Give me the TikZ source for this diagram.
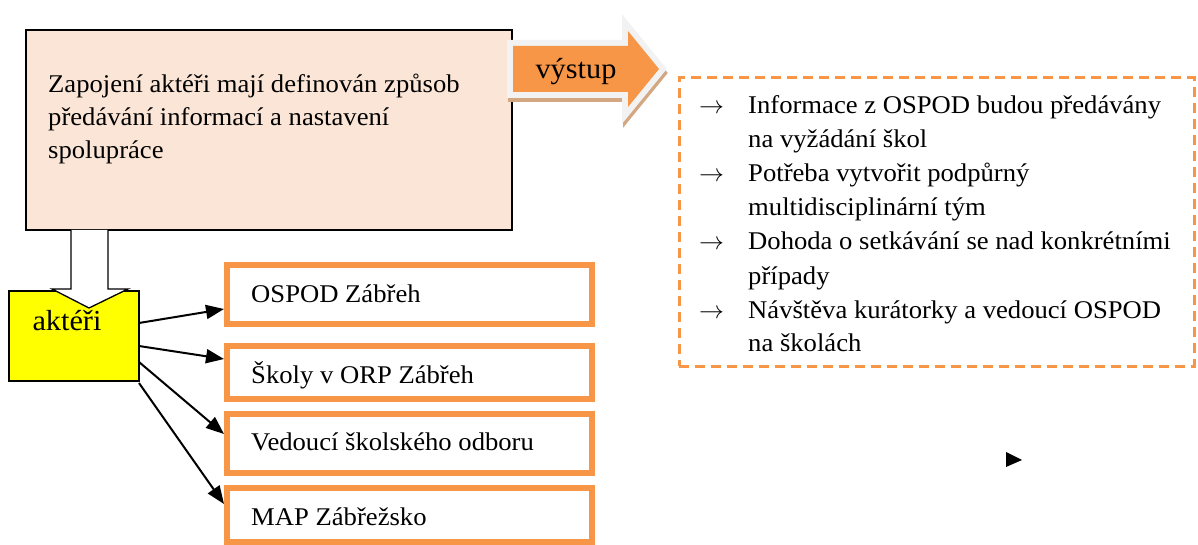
\documentclass[tikz,border=0pt]{standalone}
\usepackage{fontspec}
\setmainfont{Liberation Serif}[FakeStretch=1.045]
\usetikzlibrary{arrows.meta}
\definecolor{peach}{HTML}{FBE5D6}
\definecolor{orng}{HTML}{F79646}
\definecolor{lgrey}{HTML}{F2F2F2}
\definecolor{tanshadow}{HTML}{D2A781}
\definecolor{yell}{HTML}{FFFF00}
\tikzset{
  txt/.style={anchor=base west, inner sep=0pt, font=\fontsize{25.5pt}{33.8pt}\selectfont},
  bigtxt/.style={anchor=base, inner sep=0pt, font=\fontsize{29pt}{34pt}\selectfont},
  rect/.style={inner sep=0pt, outer sep=0pt},
  obox/.style={rect, draw=orng, line width=6pt, fill=white, minimum width=365pt},
  conn/.style={line width=2pt, -{Triangle[length=18pt,width=14pt]}},
  vpath/.style={insert path={(513,46) -- (628,46) -- (628,31) -- (659,69) -- (628,107) -- (628,92) -- (513,92) -- cycle}},
}
\begin{document}
\begin{tikzpicture}[x=1pt,y=-1pt]
\useasboundingbox (0,0) rectangle (1198,545);

% main box
\node[rect, draw=black, line width=1.3pt, fill=peach, minimum width=486pt, minimum height=200pt] (main) at (269,130) {};
\node[txt] (m1) at (48,93) {Zapojení aktéři mají definován způsob};
\node[txt] (m2) at (48,126) {předávání informací a nastavení};
\node[txt] (m3) at (48,159) {spolupráce};

% vystup arrow
\draw[tanshadow, line width=12pt, line join=miter, shift={(1,4)}, vpath];
\draw[lgrey, line width=12pt, line join=miter, vpath];
\fill[orng, vpath];
\node[bigtxt] (vystup) at (576,79) {výstup};

% dashed output box
\node[rect, draw=orng, line width=3pt, dash pattern=on 10pt off 6pt, minimum width=515pt, minimum height=288pt] (out) at (936.5,222) {};
\node[txt] (a1) at (699,114) {$\rightarrow$};
\node[txt] (o1) at (748,114) {Informace z OSPOD budou předávány};
\node[txt] (o2) at (748,148) {na vyžádání škol};
\node[txt] (a2) at (699,182) {$\rightarrow$};
\node[txt] (o3) at (748,182) {Potřeba vytvořit podpůrný};
\node[txt] (o4) at (748,216) {multidisciplinární tým};
\node[txt] (a3) at (699,250) {$\rightarrow$};
\node[txt] (o5) at (748,250) {Dohoda o setkávání se nad konkrétními};
\node[txt] (o6) at (748,284) {případy};
\node[txt] (a4) at (699,318) {$\rightarrow$};
\node[txt] (o7) at (748,318) {Návštěva kurátorky a vedoucí OSPOD};
\node[txt] (o8) at (748,351) {na školách};

% small triangle
\fill[black] (1006,452) -- (1022,460) -- (1006,467) -- cycle;

% akteri box
\node[rect, draw=black, line width=1.3pt, fill=yell, minimum width=130pt, minimum height=90pt] (akt) at (74,336) {};
\draw[fill=white, line width=1.3pt, line join=miter] (71,230) -- (71,289) -- (52,289) -- (89,308) -- (128,289) -- (108,289) -- (108,230);
\node[bigtxt] (akttext) at (67,330) {aktéři};

% orange boxes
\node[obox, minimum height=59pt] (b1) at (409.5,294.5) {};
\node[obox, minimum height=53pt] (b2) at (409.5,372.5) {};
\node[obox, minimum height=59pt] (b3) at (409.5,443.5) {};
\node[obox, minimum height=54pt] (b4) at (409.5,515) {};
\node[txt] (bt1) at (251,302) {OSPOD Zábřeh};
\node[txt] (bt2) at (251,383) {Školy v ORP Zábřeh};
\node[txt] (bt3) at (251,450) {Vedoucí školského odboru};
\node[txt] (bt4) at (251,525) {MAP Zábřežsko};

% connectors
\coordinate (s1) at (139,323); \coordinate (e1) at (224,309);
\coordinate (s2) at (139,346); \coordinate (e2) at (224,359);
\coordinate (s3) at (139,362); \coordinate (e3) at (224,434);
\coordinate (s4) at (139,383); \coordinate (e4) at (224,504);
\draw[conn] (s1) -- (e1);
\draw[conn] (s2) -- (e2);
\draw[conn] (s3) -- (e3);
\draw[conn] (s4) -- (e4);
\end{tikzpicture}
\end{document}
